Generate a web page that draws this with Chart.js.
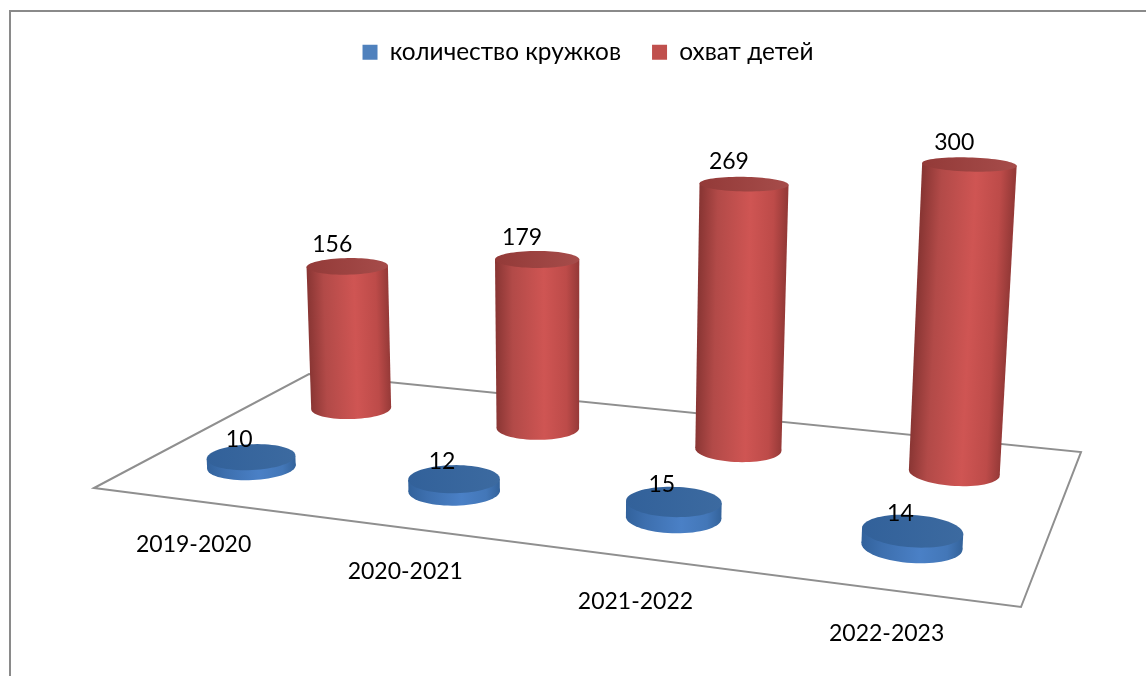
<!DOCTYPE html>
<html>
<head>
<meta charset="utf-8">
<title>Кружки</title>
<script src="https://cdn.jsdelivr.net/npm/chart.js@4"></script>
<style>
    html, body { margin: 0; padding: 0; background: #fff; }
    canvas { display: block; }
</style>
</head>
<body>
<canvas id="clubsChart" width="1146" height="676"></canvas>
<script>
const years = ["2019-2020", "2020-2021", "2021-2022", "2022-2023"];
const clubCount = [10, 12, 15, 14];
const childrenCount = [156, 179, 269, 300];
const valueMax = 300;

const fontName = "Lato, 'Open Sans', sans-serif";
const fontSize = 23;
const legendFontSize = 24.4;

// corners of the floor on screen: front left, front right, back right, back left
const floor = [[94, 488], [1021, 607], [1081, 452], [309, 374]];
const nadir = [570, 8300];     // verticals converge here
const liftAtMax = -0.0387;     // how far the top value moves towards the camera
const radiusU = 0.05;
const radiusV = 0.0957;

const seriesLook = [
    {
        side: ["#32629c", "#3d6fae", "#4a80c6", "#4377b8", "#34639b"],
        top: ["#32619a", "#3c6aa0"],
        labelLeft: 12,
        labelLift: 17
    },
    {
        side: ["#8a3634", "#b24a48", "#cf5553", "#bd4b49", "#963a38"],
        top: ["#933a38", "#a64c4a"],
        labelLeft: 15,
        labelLift: 22
    }
];

// square to quad homography of the floor
function floorMatrix() {
    const [p0, p1, p2, p3] = floor;
    const dx1 = p1[0] - p2[0], dx2 = p3[0] - p2[0], sx = p0[0] - p1[0] + p2[0] - p3[0];
    const dy1 = p1[1] - p2[1], dy2 = p3[1] - p2[1], sy = p0[1] - p1[1] + p2[1] - p3[1];
    const den = dx1 * dy2 - dx2 * dy1;
    const g = (sx * dy2 - dx2 * sy) / den;
    const h = (dx1 * sy - sx * dy1) / den;
    return {
        a: p1[0] - p0[0] + g * p1[0], b: p3[0] - p0[0] + h * p3[0], c: p0[0],
        d: p1[1] - p0[1] + g * p1[1], e: p3[1] - p0[1] + h * p3[1], f: p0[1],
        g: g, h: h
    };
}
const M = floorMatrix();

// u, v on the floor (0..1), z = value height (0..1)
function project(u, v, z) {
    const t = liftAtMax * z;
    const w = M.g * u + M.h * v + 1 + t;
    return [
        (M.a * u + M.b * v + M.c + nadir[0] * t) / w,
        (M.d * u + M.e * v + M.f + nadir[1] * t) / w
    ];
}

function ring(u, v, z) {
    const pts = [];
    for (let i = 0; i < 72; i++) {
        const ang = i / 72 * Math.PI * 2;
        pts.push(project(u + radiusU * Math.cos(ang), v + radiusV * Math.sin(ang), z));
    }
    return pts;
}

function fillPoly(ctx, pts, style) {
    ctx.beginPath();
    pts.forEach((p, i) => i ? ctx.lineTo(p[0], p[1]) : ctx.moveTo(p[0], p[1]));
    ctx.closePath();
    ctx.fillStyle = style;
    ctx.fill();
}

function extremes(pts) {
    let left = pts[0], right = pts[0];
    pts.forEach((p) => {
        if (p[0] < left[0]) left = p;
        if (p[0] > right[0]) right = p;
    });
    return [left, right];
}

function drawCylinder(ctx, u, v, z, look) {
    const bottom = ring(u, v, 0);
    const top = ring(u, v, z);
    const [bl, br] = extremes(bottom);
    const [tl, tr] = extremes(top);

    // gradient runs across the leaning axis of the cylinder
    const mid = [(bl[0] + br[0]) / 2, (bl[1] + br[1]) / 2];
    const midT = [(tl[0] + tr[0]) / 2, (tl[1] + tr[1]) / 2];
    const ax = midT[0] - mid[0], ay = midT[1] - mid[1];
    const len = Math.hypot(ax, ay) || 1;
    const r = (br[0] - bl[0]) / 2;
    const grad = ctx.createLinearGradient(
        mid[0] + ay / len * r, mid[1] - ax / len * r,
        mid[0] - ay / len * r, mid[1] + ax / len * r);
    const stops = [0, 0.2, 0.58, 0.85, 1];
    look.side.forEach((col, i) => grad.addColorStop(stops[i], col));

    fillPoly(ctx, bottom, grad);
    fillPoly(ctx, [bl, tl, tr, br], grad);

    const topGrad = ctx.createLinearGradient(tl[0], tl[1], tr[0], tr[1]);
    topGrad.addColorStop(0, look.top[0]);
    topGrad.addColorStop(1, look.top[1]);
    fillPoly(ctx, top, topGrad);
}

function floorU(chart, i) {
    const x = chart.scales.x;
    return (x.getPixelForValue(i) - x.left) / x.width;
}

function valueZ(chart, val) {
    const y = chart.scales.y;
    return (y.bottom - y.getPixelForValue(val)) / y.height;
}

const perspectivePlugin = {
    id: "perspective",
    beforeDatasetsDraw(chart) {
        const ctx = chart.ctx;
        ctx.save();
        // chart frame, only left and top are in the picture
        ctx.strokeStyle = "#8a8a8a";
        ctx.lineWidth = 2;
        ctx.beginPath();
        ctx.moveTo(10, 676);
        ctx.lineTo(10, 11);
        ctx.lineTo(1146, 11);
        ctx.stroke();
        // floor
        ctx.strokeStyle = "#8f8f8f";
        ctx.lineWidth = 2;
        ctx.beginPath();
        [[0, 0], [1, 0], [1, 1], [0, 1]].forEach((c, i) => {
            const p = project(c[0], c[1], 0);
            i ? ctx.lineTo(p[0], p[1]) : ctx.moveTo(p[0], p[1]);
        });
        ctx.closePath();
        ctx.stroke();
        ctx.restore();
    },
    beforeDatasetDraw(chart, args) {
        const idx = args.index;
        const v = (idx + 0.5) / chart.data.datasets.length;
        chart.data.datasets[idx].data.forEach((val, i) => {
            drawCylinder(chart.ctx, floorU(chart, i), v, valueZ(chart, val), seriesLook[idx]);
        });
        return false;
    },
    afterDatasetsDraw(chart) {
        const ctx = chart.ctx;
        ctx.save();
        ctx.font = fontSize + "px " + fontName;
        ctx.fillStyle = "#000";
        ctx.textAlign = "center";
        ctx.textBaseline = "middle";
        chart.data.datasets.forEach((ds, idx) => {
            const v = (idx + 0.5) / chart.data.datasets.length;
            ds.data.forEach((val, i) => {
                const p = project(floorU(chart, i), v, valueZ(chart, val));
                ctx.fillText(String(val), p[0] - seriesLook[idx].labelLeft, p[1] - seriesLook[idx].labelLift);
            });
        });
        chart.data.labels.forEach((label, i) => {
            const p = project(floorU(chart, i), 0, 0);
            ctx.fillText(label, p[0], p[1] + 44);
        });
        ctx.restore();
    }
};

new Chart(document.getElementById("clubsChart"), {
    type: "bar",
    data: {
        labels: years,
        datasets: [
            { label: "количество кружков", data: clubCount, backgroundColor: "#4f81bd" },
            { label: "охват детей", data: childrenCount, backgroundColor: "#c0504d" }
        ]
    },
    plugins: [perspectivePlugin],
    options: {
        responsive: false,
        animation: false,
        layout: { padding: { left: 30, top: 9 } },
        plugins: {
            tooltip: { enabled: false },
            legend: {
                position: "top",
                labels: {
                    boxWidth: 15,
                    boxHeight: 15,
                    padding: 31,
                    color: "#000",
                    font: { family: fontName, size: legendFontSize }
                }
            }
        },
        scales: {
            x: { display: false },
            y: { display: false, min: 0, max: valueMax }
        }
    }
});
</script>
</body>
</html>
